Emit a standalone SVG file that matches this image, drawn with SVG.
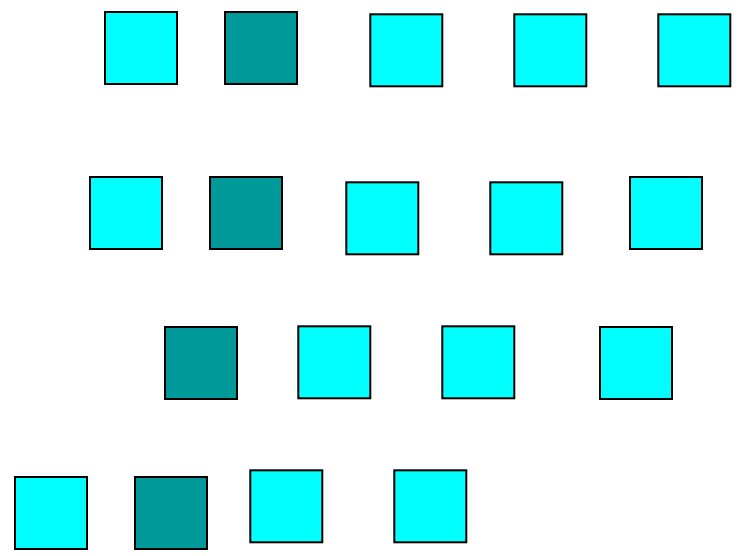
<svg xmlns="http://www.w3.org/2000/svg" width="741" height="556" viewBox="0 0 741 556">
<style>
.c{fill:#00FFFF;stroke:#000;stroke-width:2}
.d{fill:#009999;stroke:#000;stroke-width:2}
.a{fill:#00FFFF;stroke:#000;stroke-width:2}
</style>
<rect width="741" height="556" fill="#fff"/>
<g id="r1n1"><rect class="c" x="105" y="12" width="72" height="72"/></g>
<g id="r1n2"><rect class="d" x="225" y="12" width="72" height="72"/></g>
<g id="r1n3"><rect class="a" x="370.3" y="14.3" width="72" height="72"/></g>
<g id="r1n4"><rect class="a" x="514.3" y="14.3" width="72" height="72"/></g>
<g id="r1n5"><rect class="a" x="658.3" y="14.3" width="72" height="72"/></g>
<g id="r2n1"><rect class="c" x="90" y="177" width="72" height="72"/></g>
<g id="r2n2"><rect class="d" x="210" y="177" width="72" height="72"/></g>
<g id="r2n3"><rect class="a" x="346.3" y="182.3" width="72" height="72"/></g>
<g id="r2n4"><rect class="a" x="490.3" y="182.3" width="72" height="72"/></g>
<g id="r2n5"><rect class="c" x="630" y="177" width="72" height="72"/></g>
<g id="r3n1"><rect class="d" x="165" y="327" width="72" height="72"/></g>
<g id="r3n2"><rect class="a" x="298.3" y="326.3" width="72" height="72"/></g>
<g id="r3n3"><rect class="a" x="442.3" y="326.3" width="72" height="72"/></g>
<g id="r3n4"><rect class="c" x="600" y="327" width="72" height="72"/></g>
<g id="r4n1"><rect class="c" x="15" y="477" width="72" height="72"/></g>
<g id="r4n2"><rect class="d" x="135" y="477" width="72" height="72"/></g>
<g id="r4n3"><rect class="a" x="250.3" y="470.3" width="72" height="72"/></g>
<g id="r4n4"><rect class="a" x="394.3" y="470.3" width="72" height="72"/></g>
<g id="connectors"></g>
</svg>
